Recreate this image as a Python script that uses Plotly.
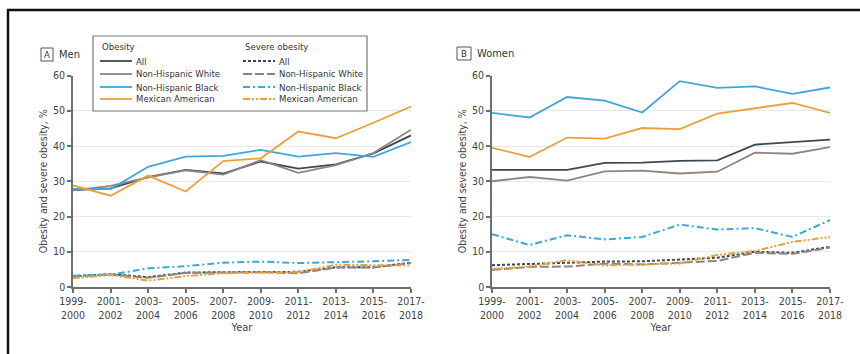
import plotly.graph_objects as go

W, H = 860, 354

periods = ["1999-<br>2000", "2001-<br>2002", "2003-<br>2004", "2005-<br>2006", "2007-<br>2008",
           "2009-<br>2010", "2011-<br>2012", "2013-<br>2014", "2015-<br>2016", "2017-<br>2018"]
y_ticks = [0, 10, 20, 30, 40, 50, 60]

groups = ["All", "Non-Hispanic White", "Non-Hispanic Black", "Mexican American"]

# Men - obesity
men_all = [27.5, 28.0, 31.2, 33.2, 32.2, 35.6, 33.6, 34.8, 37.9, 43.0]
men_white = [27.4, 28.7, 31.1, 33.1, 31.9, 36.0, 32.4, 34.6, 38.0, 44.6]
men_black = [27.8, 27.8, 34.1, 37.0, 37.2, 38.9, 37.0, 38.0, 36.9, 41.1]
men_mexican = [28.8, 25.9, 31.6, 27.1, 35.7, 36.5, 44.1, 42.2, 46.6, 51.2]
# Men - severe obesity
men_sev_all = [3.1, 3.6, 2.8, 4.1, 4.2, 4.3, 4.3, 5.6, 5.6, 6.9]
men_sev_white = [3.0, 3.6, 2.6, 4.0, 4.1, 4.2, 3.9, 5.5, 5.5, 6.8]
men_sev_black = [3.2, 3.5, 5.3, 5.9, 6.9, 7.2, 6.8, 7.0, 7.3, 7.7]
men_sev_mexican = [2.5, 3.4, 1.8, 3.1, 3.9, 4.0, 4.2, 6.3, 6.2, 6.1]

# Women - obesity
women_all = [33.2, 33.2, 33.2, 35.2, 35.3, 35.8, 35.9, 40.4, 41.1, 41.8]
women_white = [30.0, 31.2, 30.2, 32.8, 33.0, 32.2, 32.7, 38.1, 37.8, 39.7]
women_black = [49.4, 48.1, 53.9, 52.9, 49.5, 58.4, 56.5, 56.9, 54.8, 56.6]
women_mexican = [39.5, 36.9, 42.4, 42.1, 45.1, 44.8, 49.2, 50.8, 52.2, 49.4]
# Women - severe obesity
women_sev_all = [6.2, 6.5, 7.0, 7.2, 7.3, 7.8, 8.3, 10.0, 9.7, 11.4]
women_sev_white = [4.8, 5.7, 5.8, 6.6, 6.4, 7.0, 7.4, 9.7, 9.4, 11.2]
women_sev_black = [15.0, 11.9, 14.7, 13.5, 14.2, 17.7, 16.3, 16.7, 14.2, 19.0]
women_sev_mexican = [5.1, 5.8, 7.6, 6.1, 6.4, 6.7, 9.1, 10.2, 12.8, 14.2]

COLORS = ["#3e4852", "#8d8582", "#3ea7d8", "#e9a23b"]
SEV_DASH = ["3px,2px", "9px,3px", "7px,3px,2px,3px", "7px,2px,2px,2px,2px,2px"]
FONT = "'DejaVu Sans Condensed', 'Roboto Condensed', 'Liberation Sans Narrow', Roboto, sans-serif"
TXT = "#444444"

fig = go.Figure()

panels = [
    ("x", "y", [men_all, men_white, men_black, men_mexican],
     [men_sev_all, men_sev_white, men_sev_black, men_sev_mexican]),
    ("x2", "y2", [women_all, women_white, women_black, women_mexican],
     [women_sev_all, women_sev_white, women_sev_black, women_sev_mexican]),
]

for xa, ya, ob, sev in panels:
    for i, g in enumerate(groups):
        fig.add_trace(go.Scatter(x=periods, y=sev[i], mode="lines", xaxis=xa, yaxis=ya,
                                 name="Severe obesity: " + g, showlegend=False,
                                 line=dict(color=COLORS[i], width=2, dash=SEV_DASH[i])))
    for i, g in enumerate(groups):
        fig.add_trace(go.Scatter(x=periods, y=ob[i], mode="lines", xaxis=xa, yaxis=ya,
                                 name="Obesity: " + g, showlegend=False,
                                 line=dict(color=COLORS[i], width=1.8)))

def px_x(p):
    return p / W

def px_y(p):
    return 1 - p / H

xcommon = dict(type="category", categoryorder="array", categoryarray=periods, automargin=False,
               range=[0, 9], showgrid=False, showline=True, linecolor="#6e6e6e", linewidth=1.5,
               ticks="outside", ticklen=4, tickcolor="#6e6e6e", tickwidth=1.5,
               tickfont=dict(family=FONT, size=10.5, color=TXT), zeroline=False,
               title=dict(text="Year", font=dict(family=FONT, size=11, color=TXT), standoff=3))
ycommon = dict(range=[0, 60], tickvals=y_ticks, showgrid=True, gridcolor="#e8e8e8", gridwidth=1,
               showline=True, linecolor="#6e6e6e", linewidth=1.5, ticks="outside", ticklen=4,
               tickcolor="#6e6e6e", tickwidth=1.5, zeroline=False, automargin=False,
               tickfont=dict(family=FONT, size=10.5, color=TXT),
               title=dict(text="Obesity and severe obesity, %", font=dict(family=FONT, size=10.5, color=TXT),
                          standoff=3))

ydom = [px_y(287), px_y(75.5)]
fig.update_layout(
    width=W, height=H, margin=dict(l=0, r=0, t=0, b=0, pad=0, autoexpand=False),
    paper_bgcolor="white", plot_bgcolor="white", showlegend=False,
    xaxis=dict(domain=[px_x(73), px_x(411)], anchor="y", **xcommon),
    yaxis=dict(domain=ydom, anchor="x", **ycommon),
    xaxis2=dict(domain=[px_x(492), px_x(830)], anchor="y2", **xcommon),
    yaxis2=dict(domain=ydom, anchor="x2", **ycommon),
)

shapes = []
annotations = []
# outer frame
shapes.append(dict(type="rect", xref="paper", yref="paper", x0=px_x(8), x1=px_x(875), y0=px_y(10), y1=px_y(370),
                   line=dict(color="#111111", width=2.5), fillcolor="rgba(0,0,0,0)", layer="above"))

# panel labels
for (bx0, bx1, by0, by1, letter, title) in [(41, 53, 48, 61, "A", "Men"), (457, 471, 47, 60, "B", "Women")]:
    shapes.append(dict(type="rect", xref="paper", yref="paper", x0=px_x(bx0), x1=px_x(bx1),
                       y0=px_y(by1), y1=px_y(by0), line=dict(color="#555555", width=1), fillcolor="white"))
    annotations.append(dict(xref="paper", yref="paper", x=px_x((bx0 + bx1) / 2), y=px_y((by0 + by1) / 2),
                            text=letter, showarrow=False, xanchor="center", yanchor="middle",
                            font=dict(family=FONT, size=9.5, color="#333333")))
    annotations.append(dict(xref="paper", yref="paper", x=px_x(bx1 + 4), y=px_y((by0 + by1) / 2),
                            text=title, showarrow=False, xanchor="left", yanchor="middle",
                            font=dict(family=FONT, size=11, color="#333333")))

# legend box (manual, two columns)
shapes.append(dict(type="rect", xref="paper", yref="paper", x0=px_x(93), x1=px_x(367), y0=px_y(111), y1=px_y(36),
                   line=dict(color="#777777", width=1.2), fillcolor="white", layer="above"))
col_x = [100, 243]
headers = ["Obesity", "Severe obesity"]
row_y = [61, 74, 87, 99]
for c in range(2):
    annotations.append(dict(xref="paper", yref="paper", x=px_x(col_x[c]), y=px_y(47), text=headers[c],
                            showarrow=False, xanchor="left", yanchor="middle",
                            font=dict(family=FONT, size=9.5, color="#333333")))
    for i, g in enumerate(groups):
        shapes.append(dict(type="line", xref="paper", yref="paper", x0=px_x(col_x[c]), x1=px_x(col_x[c] + 32),
                           y0=px_y(row_y[i]), y1=px_y(row_y[i]), layer="above",
                           line=dict(color=COLORS[i], width=1.8,
                                     dash="solid" if c == 0 else SEV_DASH[i])))
        annotations.append(dict(xref="paper", yref="paper", x=px_x(col_x[c] + 34), y=px_y(row_y[i]), text=g,
                                showarrow=False, xanchor="left", yanchor="middle",
                                font=dict(family=FONT, size=9.5, color="#333333")))

fig.update_layout(shapes=shapes, annotations=annotations)
fig.write_html("out.html", config={"displayModeBar": False},
               post_script="document.body.style.margin='0';document.body.style.padding='0';")
